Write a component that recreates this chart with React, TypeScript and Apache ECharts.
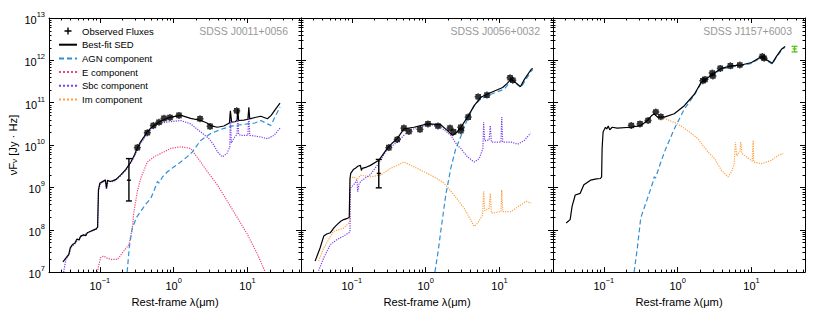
import React, { useEffect, useRef } from 'react';
import * as echarts from 'echarts';

// All curve points are [log10 λ (μm), log10 νFν (Jy·Hz)].
const p1Sed = [[-1.50,7.24],[-1.46,7.33],[-1.42,7.42],[-1.40,7.58],[-1.37,7.65],[-1.34,7.68],[-1.31,7.78],[-1.28,7.76],[-1.26,7.85],[-1.22,7.88],[-1.19,7.86],[-1.17,7.93],[-1.13,7.96],[-1.09,7.99],[-1.05,8.02],[-1.03,8.06],[-1.018,8.95],[-1.00,9.10],[-0.97,9.13],[-0.94,9.16],[-0.925,9.18],[-0.91,8.98],[-0.895,9.17],[-0.86,9.14],[-0.82,9.16],[-0.78,9.19],[-0.72,9.29],[-0.65,9.42],[-0.58,9.60],[-0.53,9.77],[-0.49,9.94],[-0.45,10.07],[-0.40,10.20],[-0.36,10.31],[-0.31,10.40],[-0.27,10.46],[-0.18,10.56],[-0.10,10.62],[-0.04,10.66],[0.10,10.70],[0.23,10.63],[0.37,10.58],[0.45,10.52],[0.50,10.46],[0.59,10.42],[0.68,10.45],[0.755,10.52],[0.768,10.81],[0.785,10.54],[0.83,10.55],[0.858,10.58],[0.868,10.85],[0.88,10.58],[0.95,10.59],[1.005,10.61],[1.018,10.89],[1.03,10.62],[1.10,10.65],[1.18,10.68],[1.27,10.62],[1.32,10.70],[1.38,10.85],[1.44,10.99]];
const p1Obs = [[-0.492,9.94],[-0.357,10.29],[-0.275,10.46],[-0.199,10.54],[-0.131,10.63],[-0.05,10.65],[0.072,10.70],[0.357,10.62],[0.493,10.44],[0.854,10.81]];
const p1Err = [[-0.606,9.17,8.68,9.68]];
const p1Agn = [[-0.63,7.0],[-0.60,7.6],[-0.56,8.04],[-0.50,8.30],[-0.447,8.43],[-0.38,8.60],[-0.31,8.74],[-0.26,8.95],[-0.22,9.14],[-0.20,9.10],[-0.15,9.25],[-0.085,9.37],[0.0,9.48],[0.095,9.60],[0.18,9.72],[0.254,9.84],[0.30,9.95],[0.366,10.11],[0.50,10.27],[0.637,10.37],[0.818,10.46],[0.999,10.50],[1.10,10.52],[1.18,10.58],[1.27,10.50],[1.315,10.46],[1.36,10.62],[1.44,10.90]];
const p1E = [[-1.035,7.0],[-0.99,7.34],[-0.95,7.38],[-0.90,7.33],[-0.854,7.30],[-0.76,7.30],[-0.674,7.50],[-0.606,7.65],[-0.56,8.04],[-0.538,8.43],[-0.492,8.90],[-0.447,9.21],[-0.357,9.60],[-0.267,9.72],[-0.176,9.80],[-0.04,9.92],[0.10,9.96],[0.23,9.92],[0.366,9.60],[0.457,9.37],[0.593,9.06],[0.728,8.67],[0.864,8.28],[0.999,7.89],[1.135,7.42],[1.24,7.0]];
const p1Sbc = [[-1.49,7.0],[-1.46,7.30],[-1.42,7.40],[-1.39,7.58],[-1.37,7.62],[-1.33,7.68],[-1.30,7.76],[-1.26,7.83],[-1.22,7.86],[-1.18,7.91],[-1.15,7.94],[-1.10,7.98],[-1.04,8.02],[-1.03,8.04],[-1.018,8.93],[-0.99,9.10],[-0.95,9.13],[-0.925,9.16],[-0.91,8.95],[-0.89,9.15],[-0.84,9.13],[-0.79,9.16],[-0.72,9.27],[-0.65,9.40],[-0.58,9.58],[-0.53,9.74],[-0.49,9.90],[-0.45,10.03],[-0.40,10.16],[-0.36,10.27],[-0.31,10.36],[-0.22,10.50],[-0.10,10.54],[0.095,10.58],[0.23,10.50],[0.366,10.31],[0.479,10.15],[0.547,9.99],[0.593,9.84],[0.66,9.72],[0.72,9.80],[0.76,9.95],[0.768,10.75],[0.78,10.05],[0.83,10.20],[0.858,10.25],[0.868,10.73],[0.88,10.25],[0.908,10.23],[1.005,10.23],[1.018,10.75],[1.03,10.23],[1.18,10.19],[1.27,10.15],[1.36,10.23],[1.45,10.42]];

const p2Sed = [[-1.497,7.26],[-1.43,7.57],[-1.38,7.85],[-1.34,7.90],[-1.29,7.93],[-1.24,8.05],[-1.20,8.12],[-1.15,8.20],[-1.11,8.24],[-1.06,8.27],[-1.035,8.29],[-1.025,9.20],[-1.015,9.33],[-0.98,9.42],[-0.952,9.45],[-0.92,9.50],[-0.884,9.52],[-0.87,9.40],[-0.86,9.45],[-0.80,9.48],[-0.748,9.52],[-0.635,9.64],[-0.52,9.92],[-0.45,10.05],[-0.385,10.15],[-0.295,10.38],[-0.159,10.42],[0.023,10.50],[0.204,10.48],[0.295,10.34],[0.363,10.23],[0.43,10.31],[0.476,10.42],[0.567,10.66],[0.657,10.93],[0.748,11.13],[0.884,11.24],[1.043,11.36],[1.10,11.45],[1.156,11.55],[1.20,11.50],[1.284,11.38],[1.337,11.55],[1.43,11.79],[1.45,11.81]];
const p2Obs = [[-0.499,9.94],[-0.385,10.13],[-0.295,10.40],[-0.227,10.32],[-0.077,10.37],[0.031,10.50],[0.167,10.45],[0.33,10.40],[0.377,10.31],[0.476,10.34],[0.476,10.42],[0.576,10.66],[0.711,11.14],[0.83,11.18],[1.143,11.59],[1.18,11.53]];
const p2Err = [[-0.635,9.33,8.99,9.66]];
const p2Agn = [[0.125,7.0],[0.17,7.5],[0.204,7.96],[0.272,8.82],[0.34,9.45],[0.408,9.92],[0.454,10.10],[0.499,10.31],[0.567,10.62],[0.657,10.93],[0.748,11.09],[0.884,11.20],[1.065,11.32],[1.156,11.52],[1.20,11.48],[1.29,11.36],[1.43,11.75],[1.45,11.78]];
const p2Sbc = [[-1.45,7.03],[-1.38,7.34],[-1.29,7.65],[-1.20,7.77],[-1.11,7.85],[-1.04,7.93],[-1.025,7.95],[-1.02,8.98],[-0.975,9.06],[-0.93,9.17],[-0.92,8.90],[-0.90,9.10],[-0.86,9.17],[-0.75,9.30],[-0.657,9.52],[-0.52,9.90],[-0.385,10.07],[-0.249,10.31],[-0.113,10.42],[0.068,10.48],[0.204,10.42],[0.34,10.23],[0.43,9.99],[0.476,9.92],[0.567,9.72],[0.657,9.60],[0.725,9.68],[0.775,9.92],[0.785,10.54],[0.80,10.10],[0.86,10.12],[0.875,10.46],[0.89,10.07],[1.02,10.07],[1.03,10.66],[1.043,10.07],[1.156,10.07],[1.247,10.02],[1.337,10.11],[1.419,10.28]];
const p2Im = [[-1.45,7.26],[-1.38,7.57],[-1.25,7.96],[-1.11,8.04],[-1.04,8.16],[-1.025,8.18],[-1.02,9.21],[-0.97,9.25],[-0.93,9.18],[-0.884,9.29],[-0.75,9.25],[-0.612,9.29],[-0.476,9.45],[-0.385,9.52],[-0.295,9.60],[-0.2,9.52],[-0.023,9.37],[0.113,9.25],[0.249,9.10],[0.385,8.82],[0.521,8.51],[0.657,8.08],[0.70,8.15],[0.771,8.35],[0.785,8.90],[0.80,8.45],[0.86,8.51],[0.875,8.86],[0.89,8.39],[1.02,8.43],[1.03,8.94],[1.043,8.43],[1.156,8.43],[1.29,8.59],[1.36,8.67],[1.43,8.63]];

const p3Sed = [[-1.51,8.16],[-1.456,8.24],[-1.43,8.55],[-1.387,8.82],[-1.32,8.86],[-1.27,9.06],[-1.18,9.17],[-1.10,9.20],[-1.046,9.21],[-1.03,9.25],[-1.023,9.92],[-1.01,10.31],[-0.978,10.42],[-0.96,10.38],[-0.94,10.45],[-0.92,10.36],[-0.887,10.42],[-0.819,10.40],[-0.637,10.42],[-0.5,10.46],[-0.409,10.58],[-0.35,10.70],[-0.319,10.74],[-0.273,10.66],[-0.182,10.66],[-0.046,10.74],[0.09,10.93],[0.226,11.20],[0.318,11.48],[0.409,11.59],[0.5,11.71],[0.59,11.81],[0.727,11.87],[0.864,11.89],[1.0,11.95],[1.136,12.09],[1.2,12.02],[1.28,11.93],[1.34,12.10],[1.41,12.27],[1.455,12.33]];
const p3Obs = [[-0.628,10.46],[-0.51,10.50],[-0.401,10.58],[-0.296,10.78],[-0.228,10.67],[0.341,11.52],[0.37,11.55],[0.468,11.70],[0.477,11.63],[0.577,11.81],[0.714,11.87],[0.841,11.89],[1.146,12.09],[1.17,12.05]];
const p3Extra = [[1.583,12.27,12.20,12.33]];
const p3Agn = [[-0.59,7.0],[-0.546,7.57],[-0.5,8.28],[-0.409,8.74],[-0.33,9.15],[-0.319,9.25],[-0.30,9.22],[-0.228,9.60],[-0.16,9.92],[-0.046,10.38],[0.09,10.85],[0.226,11.18],[0.318,11.46],[0.409,11.57],[0.5,11.69],[0.59,11.79],[0.727,11.85],[0.864,11.87],[1.0,11.93],[1.136,12.07],[1.2,12.00],[1.28,11.91],[1.34,12.08],[1.41,12.25],[1.455,12.31]];
const p3Im = [[-0.22,10.66],[0.0,10.50],[0.136,10.34],[0.273,10.15],[0.363,9.94],[0.409,9.84],[0.5,9.68],[0.59,9.41],[0.682,9.25],[0.73,9.37],[0.765,9.55],[0.782,10.07],[0.80,9.75],[0.845,9.85],[0.855,10.07],[0.87,9.80],[1.01,9.62],[1.023,10.11],[1.03,9.60],[1.136,9.56],[1.273,9.64],[1.364,9.76],[1.43,9.80]];

const panelTitles = ['SDSS J0011+0056', 'SDSS J0056+0032', 'SDSS J1157+6003'];
const legendNames = ['Observed Fluxes', 'Best-fit SED', 'AGN component', 'E component', 'Sbc component', 'Im component'];
const xMinorTicks = [0.03,0.04,0.05,0.06,0.07,0.08,0.09,0.2,0.3,0.4,0.5,0.6,0.7,0.8,0.9,2,3,4,5,6,7,8,9,20,30,40,50];
const yMinorTicks = [7,8,9,10,11,12].flatMap(e => [2,3,4,5,6,7,8,9].map(m => m * Math.pow(10, e)));

const X_MIN = 0.0205, X_MAX = 53, Y_MIN = 1e7, Y_MAX = 1e13;
const PANEL_LEFT = [49, 301, 553];
const PANEL_W = 252, PANEL_TOP = 18, PANEL_H = 256;
const FONT = '"Liberation Sans", Arial, Helvetica, sans-serif';
const C_AGN = '#2f8fd8', C_E = '#f0457a', C_SBC = '#7c3ff0', C_IM = '#ffa040', C_EXTRA = '#5cc41e';
const CROSS = 'path://M4,0H6V1H9V4H10V6H9V9H6V10H4V9H1V6H0V4H1V1H4Z';
const LEGEND_CROSS = 'path://M4,0H6V4H10V6H6V10H4V6H0V4H4Z';

const fromLog = (pts: number[][]) => pts.map(p => [Math.pow(10, p[0]), Math.pow(10, p[1])]);

function supLabel(v: number) {
  const e = Math.log10(v);
  const r = Math.round(e);
  if (Math.abs(e - r) > 1e-6) return '';
  return '{b|10}{s|' + (r < 0 ? '\u2212' + (-r) : String(r)) + '}';
}
const richSup = {
  b: { fontSize: 11, fontFamily: FONT, color: '#000', lineHeight: 15, verticalAlign: 'bottom' },
  s: { fontSize: 7.5, fontFamily: FONT, color: '#000', lineHeight: 8, verticalAlign: 'top' },
};

function lineSeries(name: string, pts: number[][], i: number, color: string, type: any, z: number, width = 1.2) {
  return {
    type: 'line', name, xAxisIndex: i * 2, yAxisIndex: i * 2, data: fromLog(pts),
    symbol: 'none', smooth: false, z, clip: true,
    lineStyle: { color, width, type },
    itemStyle: { color },
  };
}

function errSeries(pts: number[][], i: number, color: string) {
  return {
    type: 'custom', name: 'err' + i + color, xAxisIndex: i * 2, yAxisIndex: i * 2, z: 5,
    data: pts.map(p => [Math.pow(10, p[0]), Math.pow(10, p[1]), Math.pow(10, p[2]), Math.pow(10, p[3])]),
    renderItem: (params: any, api: any) => {
      const c = api.coord([api.value(0), api.value(1)]);
      const lo = api.coord([api.value(0), api.value(2)]);
      const hi = api.coord([api.value(0), api.value(3)]);
      const st = { stroke: color, lineWidth: 1.4 };
      return {
        type: 'group', children: [
          { type: 'line', shape: { x1: c[0], y1: lo[1], x2: c[0], y2: hi[1] }, style: st },
          { type: 'line', shape: { x1: c[0] - 3, y1: lo[1], x2: c[0] + 3, y2: lo[1] }, style: st },
          { type: 'line', shape: { x1: c[0] - 3, y1: hi[1], x2: c[0] + 3, y2: hi[1] }, style: st },
          { type: 'line', shape: { x1: c[0] - 2, y1: c[1], x2: c[0] + 2, y2: c[1] }, style: st },
        ],
      };
    },
  };
}

function minorTickSeries(i: number) {
  const data = [
    ...xMinorTicks.map(v => [v, Y_MIN, 0]),
    ...yMinorTicks.map(v => [X_MIN, v, 1]),
  ];
  return {
    type: 'custom', name: 'minor' + i, xAxisIndex: i * 2, yAxisIndex: i * 2, z: 1, silent: true,
    data,
    renderItem: (params: any, api: any) => {
      const cs = params.coordSys;
      const p = api.coord([api.value(0), api.value(1)]);
      const st = { stroke: '#000', lineWidth: 1 };
      const L = 2.5;
      if (api.value(2) === 0) {
        const x = Math.round(p[0]) + 0.5;
        return {
          type: 'group', children: [
            { type: 'line', shape: { x1: x, y1: cs.y + cs.height, x2: x, y2: cs.y + cs.height - L }, style: st },
            { type: 'line', shape: { x1: x, y1: cs.y, x2: x, y2: cs.y + L }, style: st },
          ],
        };
      }
      const y = Math.round(p[1]) + 0.5;
      return {
        type: 'group', children: [
          { type: 'line', shape: { x1: cs.x, y1: y, x2: cs.x + L, y2: y }, style: st },
          { type: 'line', shape: { x1: cs.x + cs.width, y1: y, x2: cs.x + cs.width - L, y2: y }, style: st },
        ],
      };
    },
  };
}

function obsSeries(pts: number[][], i: number) {
  return {
    type: 'scatter', name: 'Observed Fluxes', xAxisIndex: i * 2, yAxisIndex: i * 2, z: 6,
    data: fromLog(pts), symbol: CROSS, symbolSize: 7,
    itemStyle: { color: '#000' },
  };
}

const axisCommon = {
  axisLine: { show: true, onZero: false, lineStyle: { color: '#000', width: 1 } },
  axisTick: { show: true, inside: true, length: 5, lineStyle: { color: '#000', width: 1 } },
  splitLine: { show: false },
  minorTick: { show: false },
};

export default function App() {
  const ref = useRef<HTMLDivElement>(null);
  useEffect(() => {
    document.body.style.margin = '0';
    const chart = echarts.init(ref.current!, null, { renderer: 'svg' });
    const xAxis: any[] = [];
    const yAxis: any[] = [];
    for (let i = 0; i < 3; i++) {
      xAxis.push({
        type: 'log', logBase: 10, gridIndex: i, position: 'bottom', min: X_MIN, max: X_MAX, ...axisCommon,
        axisLabel: { show: true, formatter: supLabel, rich: richSup, margin: 4, showMinLabel: true, showMaxLabel: true },
        name: 'Rest-frame \u03bb(\u03bcm)', nameLocation: 'middle', nameGap: 15,
        nameTextStyle: { fontSize: 11.2, fontFamily: FONT, color: '#000' },
      });
      xAxis.push({
        type: 'log', logBase: 10, gridIndex: i, position: 'top', min: X_MIN, max: X_MAX, ...axisCommon,
        axisLabel: { show: false },
      });
      yAxis.push({
        type: 'log', logBase: 10, gridIndex: i, position: 'left', min: Y_MIN, max: Y_MAX, ...axisCommon,
        axisLabel: { show: i === 0, formatter: supLabel, rich: richSup, margin: 4 },
        name: i === 0 ? '\u03bdF{sub|\u03bd} [Jy \u00b7 Hz]' : '', nameLocation: 'middle', nameGap: 31, nameRotate: 90,
        nameTextStyle: {
          fontSize: 11.2, fontFamily: FONT, color: '#000',
          rich: { sub: { fontSize: 8, fontFamily: FONT, color: '#000', verticalAlign: 'bottom', lineHeight: 9 } },
        },
      });
      yAxis.push({
        type: 'log', logBase: 10, gridIndex: i, position: 'right', min: Y_MIN, max: Y_MAX, ...axisCommon,
        axisLabel: { show: false },
      });
    }
    const series: any[] = [
      minorTickSeries(0), minorTickSeries(1), minorTickSeries(2),
      lineSeries('E component', p1E, 0, C_E, 'dotted', 2),
      lineSeries('Sbc component', p1Sbc, 0, C_SBC, 'dotted', 2),
      lineSeries('AGN component', p1Agn, 0, C_AGN, [5, 3], 2),
      lineSeries('Best-fit SED', p1Sed, 0, '#000', 'solid', 3),
      obsSeries(p1Obs, 0), errSeries(p1Err, 0, '#000'),
      lineSeries('Im component', p2Im, 1, C_IM, 'dotted', 2),
      lineSeries('Sbc component', p2Sbc, 1, C_SBC, 'dotted', 2),
      lineSeries('AGN component', p2Agn, 1, C_AGN, [5, 3], 2),
      lineSeries('Best-fit SED', p2Sed, 1, '#000', 'solid', 3),
      obsSeries(p2Obs, 1), errSeries(p2Err, 1, '#000'),
      lineSeries('Im component', p3Im, 2, C_IM, 'dotted', 2),
      lineSeries('AGN component', p3Agn, 2, C_AGN, [5, 3], 2),
      lineSeries('Best-fit SED', p3Sed, 2, '#000', 'solid', 3),
      obsSeries(p3Obs, 2), errSeries(p3Extra, 2, C_EXTRA),
    ];
    chart.setOption({
      animation: false,
      backgroundColor: '#fff',
      title: panelTitles.map((t, i) => ({
        text: t, right: 830 - (PANEL_LEFT[i] + PANEL_W - 13), top: 25,
        textStyle: { fontSize: 10.5, fontWeight: 'normal', fontFamily: FONT, color: '#999' },
        padding: 0,
      })),
      legend: {
        show: true, orient: 'vertical', left: 58, top: 25, itemWidth: 18, itemHeight: 7, itemGap: 1.7,
        selectedMode: false, padding: 0,
        textStyle: { fontSize: 9.5, fontFamily: FONT, color: '#000', lineHeight: 12 },
        data: legendNames.map(n => (n === 'Observed Fluxes'
          ? { name: n, icon: LEGEND_CROSS, itemStyle: { color: '#000', opacity: 1 } }
          : { name: n, itemStyle: { opacity: 0 } })),
      },
      grid: PANEL_LEFT.map(l => ({ left: l, top: PANEL_TOP, width: PANEL_W, height: PANEL_H })),
      xAxis, yAxis, series,
    });
    return () => chart.dispose();
  }, []);
  return <div ref={ref} style={{ width: 830, height: 312 }} />;
}
